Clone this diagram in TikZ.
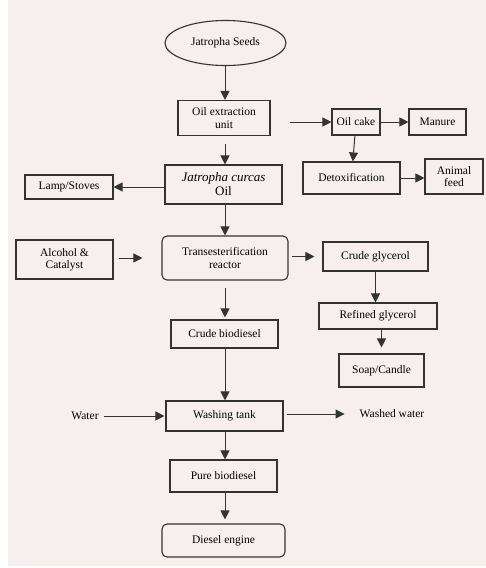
\documentclass[tikz,border=0pt]{standalone}
\usepackage{fontspec}
\setmainfont{Liberation Serif}
\usetikzlibrary{arrows.meta,shapes.geometric}
\definecolor{panel}{HTML}{F7EFED}
\definecolor{ink}{HTML}{333333}

\begin{document}
\begin{tikzpicture}[x=1pt,y=-1pt,
    box/.style={draw=ink, line width=1.1pt, inner sep=0pt, align=center,
        text=black, font=\fontsize{11.5}{12.5}\selectfont},
    rbox/.style={box, rounded corners=5pt},
    flow/.style={draw=ink, line width=1pt, -{Triangle[length=9pt,width=9pt]}},
    lbl/.style={inner sep=0pt, text=black, font=\fontsize{11.5}{12.5}\selectfont}]

\useasboundingbox (0,0) rectangle (486,568);
\fill [white] (0,0) rectangle (486,568);
\fill [panel] (8,0) rectangle (486,566);

% Main line (boxes)
\node [draw=ink, line width=1.1pt, ellipse, minimum width=121pt, minimum height=45pt,
    inner sep=0pt, text=black, font=\fontsize{11.5}{12.5}\selectfont] (seeds) at (225.5,43)
    {Jatropha Seeds};
\node [box, minimum width=92pt, minimum height=35pt] (extract) at (224,118)
    {Oil extraction\\unit};
\node [box, minimum width=117pt, minimum height=39pt,
    font=\fontsize{13}{14}\selectfont] (oil) at (223.5,184.5) {\textit{Jatropha curcas}\\Oil};
\node [rbox, minimum width=126pt, minimum height=44pt] (reactor) at (225,258)
    {Transesterification\\reactor};
\node [box, minimum width=107pt, minimum height=28pt] (crudebio) at (224.5,334)
    {Crude biodiesel};
\node [box, minimum width=117pt, minimum height=30pt] (wash) at (224.5,416)
    {Washing tank};
\node [box, minimum width=107pt, minimum height=32pt] (pure) at (223.5,476)
    {Pure biodiesel};
\node [rbox, minimum width=123pt, minimum height=33pt] (diesel) at (223.5,540.5)
    {Diesel engine};

% Side products
\node [box, minimum width=48pt, minimum height=26pt] (cake) at (356,122) {Oil cake};
\node [box, minimum width=57pt, minimum height=26pt] (manure) at (437.5,122) {Manure};
\node [box, minimum width=97pt, minimum height=32pt] (detox) at (351.5,178) {Detoxification};
\node [box, minimum width=58pt, minimum height=35pt] (feed) at (454,176.5) {Animal\\feed};
\node [box, minimum width=88pt, minimum height=24pt] (lamp) at (69,187) {Lamp/Stoves};
\node [box, minimum width=97pt, minimum height=39pt] (alcohol) at (64.5,259.5)
    {Alcohol \&\\Catalyst};
\node [box, minimum width=105pt, minimum height=29pt] (crudegly) at (375.5,256.5)
    {Crude glycerol};
\node [box, minimum width=118pt, minimum height=26pt] (refined) at (378,316)
    {Refined glycerol};
\node [box, minimum width=85pt, minimum height=33pt] (soap) at (381.5,370.5)
    {Soap/Candle};
\node [lbl] (water) at (85,416) {Water};
\node [lbl] (washed) at (392,414) {Washed water};

% Arrows
\coordinate (col) at (225,0);
\draw [flow] (seeds.south -| col) -- (extract.north -| col);
\draw [flow, shorten <=8pt] (extract.south -| col) -- (oil.north -| col);
\draw [flow] (oil.south -| col) -- (reactor.north -| col);
\draw [flow, shorten <=7pt, shorten >=2pt] (reactor.south -| col) -- (crudebio.north -| col);
\draw [flow] (crudebio.south -| col) -- (wash.north -| col);
\draw [flow] (wash.south -| col) -- (pure.north -| col);
\draw [flow, shorten >=4pt] (pure.south -| col) -- (diesel.north -| col);

\draw [flow, shorten <=19pt] (extract.east |- cake) -- (cake);
\draw [flow] (cake) -- (manure);
\draw [flow] (cake) -- (detox);
\draw [flow] (detox.east) -- (feed.west |- detox.east);
\draw [flow] (oil.west |- lamp) -- (lamp);
\draw [flow, shorten <=5pt, shorten >=19pt] (alcohol.east |- reactor) -- (reactor);
\draw [flow, shorten <=3pt, shorten >=8pt] (reactor.east |- crudegly) -- (crudegly);
\draw [flow] (crudegly) -- (crudegly |- refined.north);
\draw [flow, shorten >=6pt] (refined.south -| soap) -- (soap);
\draw [flow, shorten <=5pt, shorten >=1pt] (water) -- (wash.west |- water);
\draw [flow, shorten <=3pt, shorten >=15pt] (wash.east |- washed) -- (washed);

\end{tikzpicture}
\end{document}
